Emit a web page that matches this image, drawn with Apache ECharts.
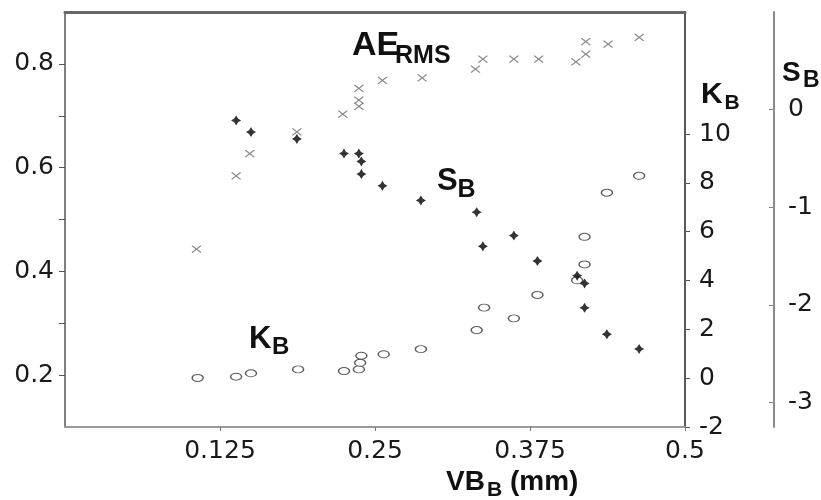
<!DOCTYPE html>
<html>
<head>
<meta charset="utf-8">
<script src="https://cdn.jsdelivr.net/npm/echarts@6/dist/echarts.min.js"></script>
<style>html,body{margin:0;padding:0;background:#fff}#c{width:821px;height:500px}</style>
</head>
<body>
<div id="c"></div>
<script>
// ---- data ----
var aeX = [0.106, 0.138, 0.149, 0.187, 0.224, 0.237, 0.237, 0.237, 0.256, 0.288, 0.331, 0.337, 0.362, 0.382, 0.412, 0.420, 0.420, 0.438, 0.463];
var aeY = [0.443, 0.584, 0.627, 0.669, 0.703, 0.718, 0.730, 0.753, 0.768, 0.773, 0.790, 0.809, 0.809, 0.809, 0.804, 0.819, 0.843, 0.838, 0.851];
var sX = [0.138, 0.150, 0.187, 0.225, 0.237, 0.239, 0.239, 0.256, 0.287, 0.332, 0.362, 0.337, 0.381, 0.413, 0.419, 0.419, 0.437, 0.463];
var sY = [-0.11, -0.23, -0.30, -0.45, -0.45, -0.53, -0.66, -0.78, -0.93, -1.05, -1.29, -1.40, -1.55, -1.70, -1.78, -2.03, -2.30, -2.45];
var kX = [0.107, 0.138, 0.150, 0.188, 0.225, 0.237, 0.238, 0.239, 0.257, 0.287, 0.332, 0.338, 0.362, 0.381, 0.413, 0.419, 0.419, 0.437, 0.463];
var kY = [0.01, 0.06, 0.20, 0.36, 0.29, 0.36, 0.63, 0.92, 0.98, 1.19, 1.97, 2.89, 2.45, 3.41, 4.01, 4.66, 5.79, 7.60, 8.29];
var xTicks = [0.125, 0.25, 0.375, 0.5];
var leftTicks = [0.2, 0.4, 0.6, 0.8];
var leftMinorTicks = [0.2, 0.3, 0.4, 0.5, 0.6, 0.7, 0.8];
var kTicks = [-2, 0, 2, 4, 6, 8, 10];
var sTicks = [-3, -2, -1, 0];

function zip(a, b) { return a.map(function (v, i) { return [v, b[i]]; }); }

var FONT = 'Liberation Sans';
var chart = echarts.init(document.getElementById('c'), null, {renderer: 'canvas'});
var lblStyle = {color: '#1a1a1a', fontFamily: 'DejaVu Sans', fontSize: 25};

function txt(x, y, s, size) {
  return {type: 'text', x: x, y: y, style: {text: s, font: 'bold ' + size + 'px "' + FONT + '"', fill: '#111', textVerticalAlign: 'middle'}};
}

chart.setOption({
  animation: false,
  backgroundColor: '#fff',
  grid: {left: 65, right: 136, top: 12, bottom: 73, containLabel: false},
  xAxis: [{
    type: 'value', position: 'bottom', min: 0, max: 0.5, interval: 0.125,
    axisLine: {show: true, onZero: false, lineStyle: {color: '#9a9a9a', width: 2}},
    axisTick: {show: true, length: 4, lineStyle: {color: '#777'}, customValues: xTicks},
    axisLabel: Object.assign({margin: 12, customValues: xTicks, formatter: function (v) { return String(v); }}, lblStyle),
    splitLine: {show: false}
  }, {
    type: 'value', position: 'top', min: 0, max: 0.5,
    axisLine: {show: true, onZero: false, lineStyle: {color: '#666', width: 3}},
    axisTick: {show: false}, axisLabel: {show: false}, splitLine: {show: false}
  }],
  yAxis: [{
    type: 'value', position: 'left', min: 0.1, max: 0.9, interval: 0.1,
    axisLine: {show: true, onZero: false, lineStyle: {color: '#555', width: 1.5}},
    axisTick: {show: true, length: 6, lineStyle: {color: '#555'}, customValues: leftMinorTicks},
    axisLabel: Object.assign({margin: 11, customValues: leftTicks, formatter: function (v) { return v.toFixed(1); }}, lblStyle),
    splitLine: {show: false}
  }, {
    type: 'value', position: 'right', min: -2, max: 15, interval: 2,
    axisLine: {show: true, onZero: false, lineStyle: {color: '#222', width: 1.5}},
    axisTick: {show: true, length: 5, lineStyle: {color: '#555'}, customValues: kTicks},
    axisLabel: Object.assign({margin: 14, customValues: kTicks}, lblStyle),
    splitLine: {show: false}
  }, {
    type: 'value', position: 'right', offset: 89, min: -3.25, max: 1, interval: 1,
    axisLine: {show: true, onZero: false, lineStyle: {color: '#8a8a8a', width: 2}},
    axisTick: {show: true, inside: true, length: 5, lineStyle: {color: '#888'}, customValues: sTicks},
    axisLabel: Object.assign({margin: 14, customValues: sTicks}, lblStyle),
    splitLine: {show: false}
  }],
  series: [{
    name: 'AE_RMS', type: 'scatter', xAxisIndex: 0, yAxisIndex: 0,
    data: zip(aeX, aeY),
    symbol: 'path://M0,0L10,8M10,0L0,8', symbolSize: [9, 7],
    itemStyle: {color: 'rgba(0,0,0,0)', borderColor: '#6a6a6a', borderWidth: 1.2}
  }, {
    name: 'K_B', type: 'scatter', xAxisIndex: 0, yAxisIndex: 1,
    data: zip(kX, kY),
    symbol: 'circle', symbolSize: [11, 7],
    itemStyle: {color: '#fff', borderColor: '#333', borderWidth: 1.2}
  }, {
    name: 'S_B', type: 'scatter', xAxisIndex: 0, yAxisIndex: 2,
    data: zip(sX, sY),
    symbol: 'path://M5,0L6.9,3.1L10,5L6.9,6.9L5,10L3.1,6.9L0,5L3.1,3.1Z', symbolSize: [10, 10],
    itemStyle: {color: '#000'}
  }],
  graphic: [
    txt(352, 46, 'AE', 34), txt(395, 56, 'RMS', 25),
    txt(437, 181, 'S', 31), txt(457.5, 190, 'B', 25),
    txt(249, 339, 'K', 31), txt(272, 347.5, 'B', 24),
    txt(701, 95, 'K', 30), txt(724.5, 103.5, 'B', 21),
    txt(782, 73, 'S', 28), txt(803, 81, 'B', 23),
    txt(446, 482, 'VB', 28), txt(487, 490, 'B', 21), txt(510, 482, '(mm)', 28)
  ]
});
</script>
</body>
</html>
